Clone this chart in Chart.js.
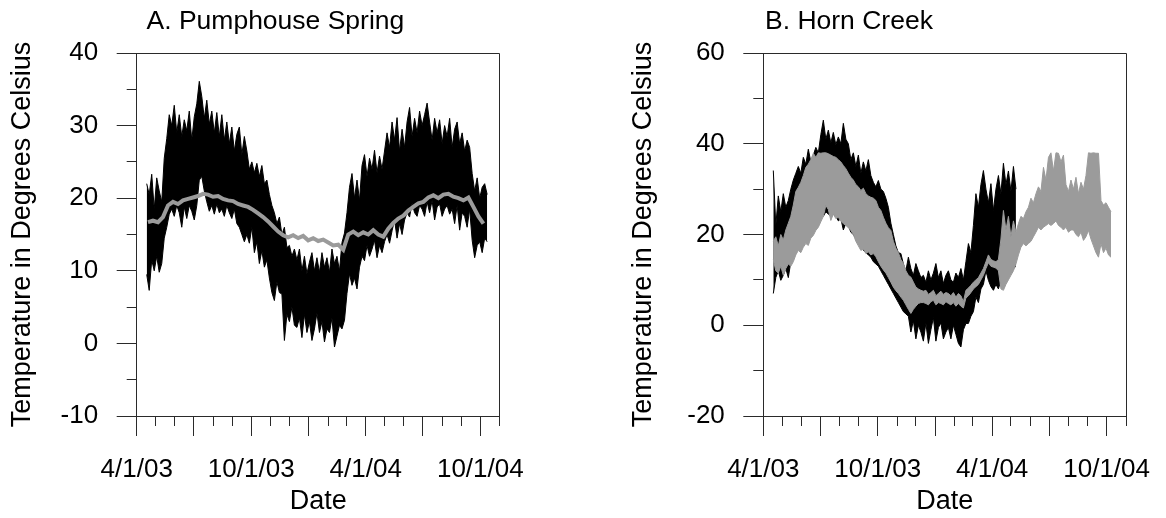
<!DOCTYPE html>
<html>
<head>
<meta charset="utf-8">
<title>Pumphouse Spring / Horn Creek temperatures</title>
<script src="https://cdn.jsdelivr.net/npm/chart.js"></script>
<style>
  body { margin: 0; background: #fff; }
  #wrap { position: relative; width: 1166px; height: 518px; }
  canvas { position: absolute; top: 0; }
  #chartA { left: 0; }
  #chartB { left: 583px; }
</style>
</head>
<body>
<div id="wrap">
  <canvas id="chartA" width="583" height="518"></canvas>
  <canvas id="chartB" width="583" height="518"></canvas>
</div>
<script>
// x axis is days since 4/1/03
const monthTicks = [0, 30, 61, 91, 122, 153, 183, 214, 244, 275, 306, 335, 366, 396, 427, 457, 488, 519, 549, 580];
const quarterTicks = [0, 91, 183, 275, 366, 457, 549];
const labelDays = [0, 183, 366, 549];
const labelText = ['4/1/03', '10/1/03', '4/1/04', '10/1/04'];

// black / grey records, sampled every 4 days from day 16 (grey A every 8 days from day 18)
const sampleStart = 16;
const sampleStep = 4;

// A. Pumphouse Spring, black: daily high / low envelope
const pumpBlackHigh = [
  22.0, 20.5, 23.3, 18.5, 22.8, 21.0, 19.5, 25.5, 28.2, 31.5,
  30.0, 32.8, 29.0, 31.5, 28.5, 30.8, 29.3, 32.0, 28.0, 31.2,
  33.0, 36.1, 34.0, 31.0, 33.5, 30.2, 32.0, 29.0, 31.8, 28.5,
  31.5, 28.0, 30.5, 27.5, 29.8, 26.5, 28.8, 29.8, 26.0, 28.5,
  26.5, 24.0, 25.0, 23.5, 24.8, 23.0, 24.5, 22.0, 22.5, 20.5,
  19.0, 18.0, 16.5, 17.4, 15.0, 16.0, 13.2, 13.5, 12.0, 13.0,
  11.5, 13.0, 10.0, 12.0, 9.6, 11.2, 12.5, 10.0, 11.8, 9.8,
  12.5, 10.5, 11.8, 9.8, 13.0, 11.0, 12.0, 10.0, 13.9, 15.2,
  18.0, 21.5, 23.4, 20.0, 22.5, 19.7, 24.5, 26.0, 23.0, 25.5,
  24.0, 26.6, 23.5, 25.8, 24.0, 26.5, 29.0, 27.0, 30.5, 28.0,
  31.1, 26.5, 29.5, 27.0, 30.5, 32.5, 28.5, 31.0, 29.0, 32.0,
  30.0, 31.5, 33.1, 30.5, 28.0, 31.0, 29.0, 30.8, 27.5, 30.0,
  28.5, 31.0, 27.0, 29.5, 30.5, 27.5, 29.0, 26.5, 28.0, 27.0,
  23.4, 21.0, 22.8, 20.0, 21.5, 22.0, 20.5
];
const pumpBlackLow = [
  9.5, 7.3, 11.5, 10.0, 12.0, 9.8, 11.0, 14.5, 16.0, 17.8,
  18.5, 17.5, 19.0, 18.0, 16.0, 18.8, 17.2, 19.0, 18.2, 17.0,
  19.0, 22.5, 23.0, 21.0, 19.5, 18.2, 19.0, 17.8, 19.2, 18.0,
  18.5, 17.5, 19.0, 18.0, 17.2, 18.5, 16.5, 16.0, 15.0, 14.0,
  15.0, 13.8, 16.0, 12.5, 14.0, 11.0, 12.8, 10.5, 11.5, 9.0,
  7.0, 5.9, 8.5, 7.0, 6.8, 0.4, 4.0, 3.0, 5.0, 2.5,
  2.2, 3.5, 0.8, 4.0, 1.5, 3.0, 0.4, 2.0, 4.2, 1.5,
  3.0, 0.2, 2.0, 1.5, 3.5, -0.5, 1.0, 2.5, 2.0, 3.2,
  6.9, 9.6, 8.0, 9.0, 7.5, 10.5, 12.0, 11.4, 13.5, 12.0,
  13.0, 14.2, 11.8, 13.5, 12.5, 14.0, 15.0, 13.8, 15.5, 17.0,
  14.5, 16.5, 15.0, 17.0, 18.0, 17.4, 19.3, 18.0, 17.5, 19.0,
  18.5, 17.5, 19.5, 18.0, 19.7, 17.0, 18.8, 19.2, 17.5, 18.5,
  19.0, 17.8, 18.5, 16.5, 19.0, 15.6, 18.0, 17.5, 16.0, 18.5,
  14.2, 11.8, 13.5, 14.0, 12.5, 14.5, 14.0
];
// A. Pumphouse Spring, grey
const pumpGreyStart = 18;
const pumpGreyStep = 8;
const pumpGrey = [
  16.7, 16.9, 16.7, 17.4, 19.0, 19.5, 19.2, 19.7, 19.9, 20.1,
  20.3, 20.6, 20.5, 20.2, 20.3, 19.9, 19.7, 19.6, 19.2, 19.0,
  18.8, 18.4, 17.9, 17.4, 16.8, 16.1, 15.4, 14.9, 14.6, 14.9,
  14.5, 14.8, 14.2, 14.5, 14.1, 14.3, 13.9, 13.5, 13.6, 12.9,
  15.0, 15.4, 14.9, 15.3, 15.0, 15.6, 15.0, 14.7, 15.8, 16.6,
  17.2, 17.6, 18.3, 18.8, 19.3, 19.5, 20.1, 20.4, 20.0, 20.5,
  20.6, 20.2, 20.0, 19.7, 20.1, 18.8, 17.5, 16.5
];

// B. Horn Creek, black (record stops in spring 2004)
const hornBlackHigh = [
  34.1, 22.0, 28.5, 25.0, 29.0, 26.0, 27.5, 30.0, 32.0, 33.5,
  35.0, 33.5, 37.0, 35.5, 38.8, 36.0, 37.5, 39.2, 38.0, 42.0,
  45.2, 41.0, 43.0, 40.2, 42.5, 39.8, 41.5, 40.0, 44.5, 41.0,
  40.0, 36.5, 38.0, 35.0, 37.5, 33.5, 36.0, 34.0, 36.5, 33.0,
  31.5, 30.5, 31.9, 30.0, 29.5, 28.0, 26.0, 22.5, 20.0, 17.5,
  16.0, 15.8, 13.5, 12.0, 15.0, 12.5, 11.0, 13.6, 12.0, 10.5,
  11.0, 9.5, 12.0, 10.0, 11.5, 13.6, 10.5, 12.0, 9.2, 11.0,
  12.0, 10.0, 9.5, 11.5, 10.5, 12.5, 10.0, 14.0, 18.0, 16.0,
  22.0, 29.0, 26.0, 31.0, 34.1, 30.0, 27.0, 31.2, 25.3, 30.0,
  33.0, 29.0, 35.7, 31.0, 34.0, 29.5, 35.0, 30.0
];
const hornBlackLow = [
  7.0, 10.5, 12.0, 9.9, 11.0, 12.5, 10.5, 14.0, 16.0, 18.0,
  19.0, 19.5, 20.0, 20.5, 21.0, 22.0, 22.5, 23.0, 24.0, 24.5,
  24.0, 25.0, 24.5, 24.0, 24.5, 24.0, 23.0, 23.5, 21.0, 22.5,
  22.0, 20.5, 20.0, 19.0, 18.0, 17.5, 16.5, 16.0, 15.5, 15.0,
  14.0, 13.5, 13.0, 12.0, 11.0, 10.0, 9.0, 8.0, 7.0, 6.0,
  5.0, 4.0, 3.0, 2.5, 2.0, -1.5, 1.0, -3.0, 0.0, -1.5,
  -3.5, 0.5, -4.0, -1.0, 1.7, -3.5, -0.5, 0.5, -3.0, -1.5,
  -0.5, -3.0, 0.0, -2.0, -4.0, -4.8, -1.0, 0.4, 0.4, 2.0,
  3.0, 6.2, 5.0, 8.0, 9.0, 12.0, 9.9, 8.5, 7.7, 9.0,
  8.0, 10.0, 9.0, 11.0, 12.0, 11.5, 12.5, 13.0
];
// B. Horn Creek, grey
const hornGreyHigh = [
  18.5, 19.5, 17.5, 20.0, 18.8, 21.0, 22.5, 24.0, 26.5, 29.5,
  30.4, 31.5, 33.0, 34.8, 35.5, 36.5, 37.9, 37.0, 38.0, 37.9,
  38.0, 38.0, 37.8, 37.5, 37.2, 37.0, 36.5, 36.0, 35.2, 34.5,
  33.5, 32.6, 32.0, 31.0, 30.5, 29.7, 30.2, 29.0, 28.5, 28.2,
  28.0, 27.5, 26.0, 25.3, 23.8, 22.5, 21.5, 20.9, 18.5, 17.0,
  16.0, 14.5, 13.6, 12.0, 11.0, 10.6, 9.5, 8.4, 8.0, 7.7,
  7.5, 7.7, 6.8, 7.2, 7.7, 6.5, 7.0, 7.5, 6.8, 7.2,
  7.0, 6.5, 7.2, 6.2, 7.0, 6.5, 5.2, 7.7, 8.2, 8.8,
  9.5, 10.0, 10.5, 11.5, 12.5, 14.0, 15.5, 14.5, 14.2, 14.0,
  14.5, 19.0, 25.3, 21.0, 24.0, 19.5, 23.0, 20.5, 22.4, 24.0,
  23.5, 25.0, 26.0, 28.0, 27.0, 29.0, 30.5, 29.5, 34.8, 32.0,
  37.0, 38.0, 34.0, 38.0, 37.9, 36.0, 37.5, 31.0, 29.5, 32.0,
  30.0, 32.6, 29.0, 31.5, 30.0, 33.0, 38.0, 37.9, 38.0, 37.9,
  37.9, 27.5, 26.5, 27.0, 26.0, 25.0
];
const hornGreyLow = [
  14.5, 12.0, 11.5, 13.0, 11.0, 12.5, 13.5, 13.0, 14.0, 15.5,
  16.5, 16.0, 17.2, 18.0, 17.6, 19.2, 19.8, 20.9, 21.6, 22.8,
  24.0, 26.4, 25.5, 23.1, 24.5, 23.5, 23.8, 22.9, 22.4, 22.0,
  21.5, 20.9, 20.0, 18.5, 17.5, 16.5, 16.8, 15.8, 16.2, 15.5,
  15.8, 15.1, 14.0, 13.0, 12.2, 11.5, 10.5, 9.5, 8.4, 7.6,
  7.0, 6.2, 5.5, 4.5, 3.5, 2.6, 3.5, 4.2, 4.8, 5.0,
  5.0, 4.8, 4.5, 5.2, 5.5, 4.5, 5.0, 4.8, 4.5, 5.2,
  4.8, 4.5, 5.0, 4.2, 4.8, 4.2, 3.8, 6.0, 6.5, 7.2,
  8.0, 8.5, 9.0, 10.0, 11.0, 12.5, 13.8, 13.0, 12.8, 12.6,
  12.0, 8.0, 7.7, 9.0, 10.0, 11.0, 12.0, 13.5, 15.5, 17.2,
  18.0, 17.5, 18.0, 18.5, 19.5, 20.5, 21.6, 21.0, 21.6, 22.0,
  22.4, 22.0, 22.4, 23.0, 22.0, 21.6, 21.0, 21.6, 20.5, 21.0,
  21.0, 20.0, 19.5, 20.5, 18.7, 19.5, 20.9, 19.0, 17.5, 16.0,
  15.0, 18.0, 16.0, 17.0, 15.5, 15.0
];

const pumpYTicks = [-10, -5, 0, 5, 10, 15, 20, 25, 30, 35, 40];
const pumpYMajor = [-10, 0, 10, 20, 30, 40];
const hornYTicks = [-20, -10, 0, 10, 20, 30, 40, 50, 60];
const hornYMajor = [-20, 0, 20, 40, 60];

const axisColor = '#2a2a2a';
const greyColor = '#9b9b9b';
const fontFamily = '"Liberation Sans", Arial, Helvetica, sans-serif';

function toPoints(values, start, step) {
    return values.map((v, i) => ({ x: start + i * step, y: v }));
}

function align(v) {
    return Math.round(v - 0.5) + 0.5;
}

// top/right frame, short minor ticks and the panel title
const panelDecor = {
    id: 'panelDecor',
    afterDraw(chart, args, opts) {
        const ctx = chart.ctx;
        const a = chart.chartArea;
        const xs = chart.scales.x;
        const ys = chart.scales.y;
        ctx.save();
        ctx.strokeStyle = axisColor;
        ctx.lineWidth = 1;
        ctx.beginPath();
        ctx.moveTo(a.left, align(a.top));
        ctx.lineTo(align(a.right), align(a.top));
        ctx.lineTo(align(a.right), a.bottom);
        xs.ticks.forEach(t => {
            if (t.major) return;
            const px = align(xs.getPixelForValue(t.value));
            ctx.moveTo(px, a.bottom);
            ctx.lineTo(px, a.bottom + 10);
        });
        ys.ticks.forEach(t => {
            if (t.major) return;
            const py = align(ys.getPixelForValue(t.value));
            ctx.moveTo(a.left - 10, py);
            ctx.lineTo(a.left, py);
        });
        ctx.stroke();

        ctx.fillStyle = '#000';
        ctx.font = '26.5px ' + fontFamily;
        ctx.textBaseline = 'alphabetic';
        ctx.textAlign = 'left';
        ctx.fillText(opts.text, opts.x, 28.5);
        ctx.restore();
    }
};

function makePanel(canvasId, p) {
    const tickFont = { family: fontFamily, size: 26 };
    const titleFont = { family: fontFamily, size: 27 };
    const tickStyle = c => (c.tick && c.tick.major) ? axisColor : 'rgba(0,0,0,0)';

    return new Chart(document.getElementById(canvasId), {
        type: 'line',
        data: { datasets: p.datasets },
        options: {
            responsive: false,
            animation: false,
            devicePixelRatio: 1,
            layout: { padding: { top: 53, right: p.padRight, bottom: 0, left: 0 } },
            elements: { point: { radius: 0 }, line: { tension: 0 } },
            plugins: {
                legend: { display: false },
                tooltip: { enabled: false },
                panelDecor: { text: p.title, x: p.titleX }
            },
            scales: {
                x: {
                    type: 'linear',
                    min: 0,
                    max: 580,
                    afterBuildTicks: s => {
                        s.ticks = monthTicks.map(v => ({ value: v, major: quarterTicks.includes(v) }));
                    },
                    afterFit: s => { s.height = 102; },
                    ticks: {
                        autoSkip: false,
                        maxRotation: 0,
                        padding: 18,
                        color: '#000',
                        font: tickFont,
                        callback: v => {
                            const i = labelDays.indexOf(v);
                            return i >= 0 ? labelText[i] : '';
                        }
                    },
                    grid: { drawOnChartArea: false, drawTicks: true, tickLength: 20, color: tickStyle, tickColor: tickStyle },
                    border: { display: true, color: axisColor, width: 1 },
                    title: { display: true, text: 'Date', color: '#000', font: titleFont, padding: { top: 0, bottom: 0 } }
                },
                y: {
                    min: p.yMin,
                    max: p.yMax,
                    afterBuildTicks: s => {
                        s.ticks = p.yTicks.map(v => ({ value: v, major: p.yMajor.includes(v) }));
                    },
                    afterFit: s => { s.width = p.axisX; },
                    ticks: {
                        autoSkip: false,
                        padding: 18.5,
                        color: '#000',
                        font: tickFont,
                        callback: v => p.yMajor.includes(v) ? String(v) : ''
                    },
                    grid: { drawOnChartArea: false, drawTicks: true, tickLength: 20, color: tickStyle, tickColor: tickStyle },
                    border: { display: true, color: axisColor, width: 1 },
                    title: { display: true, text: 'Temperature in Degrees Celsius', color: '#000', font: titleFont, padding: { top: p.yTitlePad, bottom: 0 } }
                }
            }
        },
        plugins: [panelDecor]
    });
}

function band(high, low, color) {
    return [
        { data: toPoints(high, sampleStart, sampleStep), borderColor: color, backgroundColor: color, borderWidth: 1, fill: '+1' },
        { data: toPoints(low, sampleStart, sampleStep), borderColor: color, backgroundColor: color, borderWidth: 1, fill: false }
    ];
}

makePanel('chartA', {
    title: 'A. Pumphouse Spring',
    titleX: 146.5,
    axisX: 136.7,
    padRight: 83.3,
    yTitlePad: 6,
    yMin: -10, yMax: 40,
    yTicks: pumpYTicks, yMajor: pumpYMajor,
    datasets: [
        { data: toPoints(pumpGrey, pumpGreyStart, pumpGreyStep), borderColor: greyColor, borderWidth: 4, fill: false }
    ].concat(band(pumpBlackHigh, pumpBlackLow, '#000'))
});

makePanel('chartB', {
    title: 'B. Horn Creek',
    titleX: 182,
    axisX: 180.3,
    padRight: 40,
    yTitlePad: 44,
    yMin: -20, yMax: 60,
    yTicks: hornYTicks, yMajor: hornYMajor,
    datasets: band(hornGreyHigh, hornGreyLow, greyColor).concat(band(hornBlackHigh, hornBlackLow, '#000'))
});
</script>
</body>
</html>
